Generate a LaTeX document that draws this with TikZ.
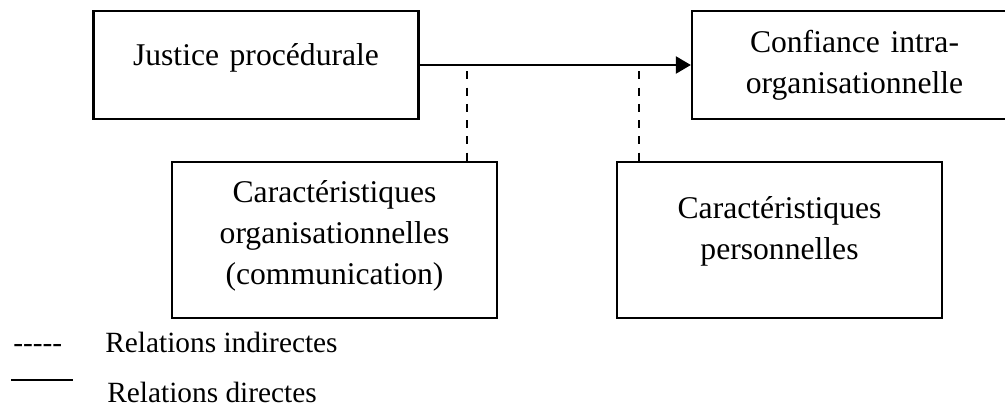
\documentclass[tikz,border=0pt]{standalone}
\usepackage{fontspec}
\setmainfont{Liberation Serif}
\usepackage{tikz}
\usetikzlibrary{shapes, arrows.meta}
\tikzstyle{box} = [rectangle, minimum width=6.5cm, minimum height=2.16cm, draw=black, line width=1.3pt, text centered, text width=6cm, text height=0.44cm, font=\fontsize{18}{23.4}\selectfont]
\tikzstyle{line} = [draw, line width=1.3pt, -{Triangle[length=0.3cm, width=0.34cm]}]
\tikzstyle{dashline} = [draw, line width=1pt, dash pattern=on 0.16cm off 0.165cm, dash phase=0.2cm]
\tikzstyle{legend} = [anchor=base west, inner sep=0pt, font=\fontsize{16.7}{20}\selectfont]

\begin{document}
\begin{tikzpicture}[node distance=1.2cm]
            \useasboundingbox (0,0) rectangle (20.1,-8.14);
            \clip (0,0) rectangle (20.1,-8.14);

            % Boxes
            \node (justice) [box, text depth=0.44cm] at (5.12,-1.30) {Justice procédurale};
            \node (confiance) [box, right of=justice, xshift=10.77cm, text depth=0.96cm] {Confiance intra-\\organisationnelle};
            \node (orga) [box, below of=justice, xshift=1.57cm, yshift=-2.3cm, minimum height=3.12cm, text depth=1.96cm] {Caractéristiques\\organisationnelles\\(communication)};
            \node (perso) [box, below of=confiance, xshift=-1.5cm, yshift=-2.3cm, minimum height=3.12cm, text depth=1.32cm] {Caractéristiques\\personnelles};

            % Points on the main arrow
            \coordinate (orgjoin) at (9.34,-1.30);
            \coordinate (persjoin) at (12.78,-1.30);

            % Legend
            \node (keydash) [legend] at (0.26,-7.04) {-{}-{}-{}-{}-};
            \node (keyindirect) [legend] at (2.10,-7.04) {Relations indirectes};
            \node (keydirect) [legend] at (2.14,-8.04) {Relations directes};
            \coordinate (keya) at (0.22,-7.60);
            \coordinate (keyb) at (1.46,-7.60);

            % Draw lines
            \path [line] (justice) -- (confiance);
            \path [dashline] (orgjoin) -- (orgjoin |- orga.north);
            \path [dashline] (persjoin) -- (persjoin |- perso.north);
            \draw [line width=1.1pt] (keya) -- (keyb);
        \end{tikzpicture}
\end{document}
